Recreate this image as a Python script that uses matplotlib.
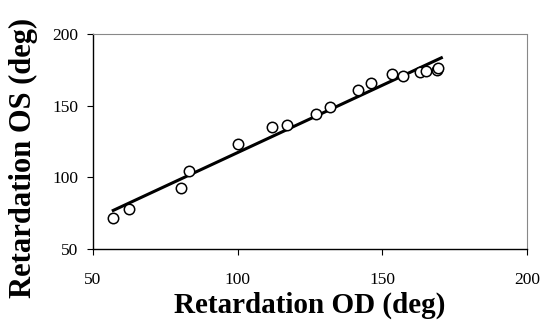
import numpy as np
import matplotlib
matplotlib.use("Agg")
import matplotlib.pyplot as plt

# retardation values (deg)
od = [57.0, 62.6, 80.3, 83.3, 100.2, 112.0, 117.0, 127.1, 132.0,
      141.7, 146.1, 153.5, 157.1, 163.0, 165.1, 168.8, 169.4]
os_ = [71.9, 77.8, 92.5, 104.7, 123.1, 135.0, 136.4, 143.9, 149.0,
       161.2, 166.1, 172.4, 170.5, 173.5, 174.2, 174.7, 176.6]

ticks = [50, 100, 150, 200]

plt.rcParams["font.family"] = ["Liberation Serif", "DejaVu Serif"]

fig = plt.figure(figsize=(5.43, 3.2), dpi=100)
ax = fig.add_axes([93 / 543, 1 - 249 / 320, 434 / 543, 215 / 320])

x = np.array(od)
y = np.array(os_)
slope, icpt = np.polyfit(x, y, 1)
xl = np.array([x.min(), x.max() + 1])
ax.plot(xl, slope * xl + icpt, color="black", lw=2.2, zorder=2)
ax.plot(x, y, "o", ms=7.5, mfc="white", mec="black", mew=1.1, zorder=3)

ax.set_xlim(50, 200)
ax.set_ylim(50, 200)
ax.set_xticks(ticks)
ax.set_yticks(ticks)
ax.tick_params(direction="out", length=4.5, width=0.8, labelsize=12.5)
ax.tick_params(axis="x", pad=12)
ax.tick_params(axis="y", pad=6)

for side in ("top", "right"):
    ax.spines[side].set_color("#888")
    ax.spines[side].set_linestyle((0, (1, 1)))
    ax.spines[side].set_linewidth(0.8)
for side in ("left", "bottom"):
    ax.spines[side].set_color("black")
    ax.spines[side].set_linewidth(1.0)

ax.set_xlabel("Retardation OD (deg)", fontsize=21, fontweight="bold", labelpad=3)
ax.set_ylabel("Retardation OS (deg)", fontsize=22, fontweight="bold")
ax.yaxis.set_label_coords(-0.127, 0.425)

fig.savefig("out.png", dpi=100)
